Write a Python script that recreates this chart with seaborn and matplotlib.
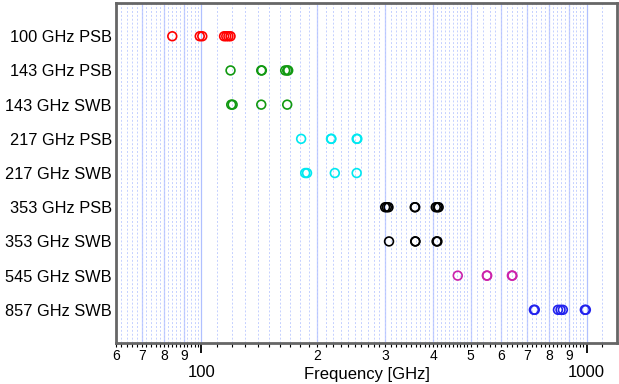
import numpy as np
import pandas as pd
import matplotlib
matplotlib.use("Agg")
import matplotlib.pyplot as plt
import matplotlib.ticker as mticker
import seaborn as sns

# band names, top to bottom
bands = ['100 GHz PSB', '143 GHz PSB', '143 GHz SWB', '217 GHz PSB',
         '217 GHz SWB', '353 GHz PSB', '353 GHz SWB', '545 GHz SWB',
         '857 GHz SWB']

# frequencies (GHz)
f100_psb = [84, 99, 100.5, 114.5, 116, 117.5, 119]
f143_psb = [119, 143, 143.5, 165, 167, 168]
f143_swb = [119.5, 120.5, 143, 167]
f217_psb = [181.5, 217, 217.5, 253, 254]
f217_swb = [186, 188, 222, 253]
f353_psb = [300, 303, 306, 358, 359, 406, 410, 413]
f353_swb = [307, 359, 359.5, 408, 410]
f545_swb = [463, 551, 552, 640, 642]
f857_swb = [730, 734, 843, 856, 868, 990, 996]

freqs = [f100_psb, f143_psb, f143_swb, f217_psb, f217_swb,
         f353_psb, f353_swb, f545_swb, f857_swb]
colors = ['#ff0000', '#119911', '#119911', '#00e8f0', '#00e8f0',
          '#000000', '#000000', '#cc22aa', '#2222ee']

# axis tick values
minor_labeled = [60, 70, 80, 90, 200, 300, 400, 500, 600, 700, 800, 900]
minor_labels = ['6', '7', '8', '9', '2', '3', '4', '5', '6', '7', '8', '9']
minor_all = (list(range(60, 100, 2)) + list(range(110, 500, 10))
             + list(range(500, 1000, 20)) + [1100])

d = pd.DataFrame({
    'band': [b for b, f in zip(bands, freqs) for _ in f],
    'freq': [v for f in freqs for v in f],
})

sns.set_style('white')
plt.rcParams['font.family'] = ['Liberation Sans', 'DejaVu Sans']
plt.rcParams['text.color'] = 'black'
plt.rcParams['axes.labelcolor'] = 'black'
plt.rcParams['xtick.color'] = 'black'
plt.rcParams['ytick.color'] = 'black'

fig = plt.figure(figsize=(6.19, 3.84), dpi=100)
ax = fig.add_axes([0.1874, 0.1068, 0.8094, 0.8852])

for b, c in zip(bands, colors):
    sub = d[d['band'] == b]
    sns.scatterplot(x=sub['freq'], y=sub['band'], ax=ax, marker='o', s=40,
                    facecolor='none', edgecolor=c, linewidth=1.2, zorder=3)

ax.set_xscale('log')
ax.set_xlim(60, 1200)
ax.set_ylim(len(bands) - 0.03, -0.97)

ax.xaxis.set_major_locator(mticker.FixedLocator([100, 1000]))
ax.xaxis.set_major_formatter(mticker.FixedFormatter(['100', '1000']))
ax.xaxis.set_minor_locator(mticker.FixedLocator(minor_all))
lab = dict(zip(minor_labeled, minor_labels))
ax.xaxis.set_minor_formatter(mticker.FuncFormatter(
    lambda v, p: lab.get(int(round(v)), '')))
ax.tick_params(axis='x', which='major', direction='out', length=7,
               width=1.3, pad=9, labelsize=12, bottom=True)
ax.tick_params(axis='x', which='minor', direction='out', length=3,
               width=0.8, pad=1, labelsize=10, bottom=True)
ax.tick_params(axis='y', length=0, pad=3, labelsize=11.8)

ax.grid(True, which='minor', axis='x', color='#c4d0ff', lw=0.7, ls=(0, (2, 2)))
ax.grid(True, which='major', axis='x', color='#b0c0ff', lw=0.9)
for v in minor_labeled:
    ax.axvline(v, color='#b8c6ff', lw=0.9, zorder=0)
ax.grid(False, axis='y')
ax.set_axisbelow(True)

for s in ax.spines.values():
    s.set_color('#666666')
    s.set_linewidth(2)

ax.set_xlabel('Frequency [GHz]', fontsize=12)
ax.xaxis.set_label_coords(0.5, -0.07)
ax.set_ylabel('')

fig.savefig('out.png', dpi=100)
